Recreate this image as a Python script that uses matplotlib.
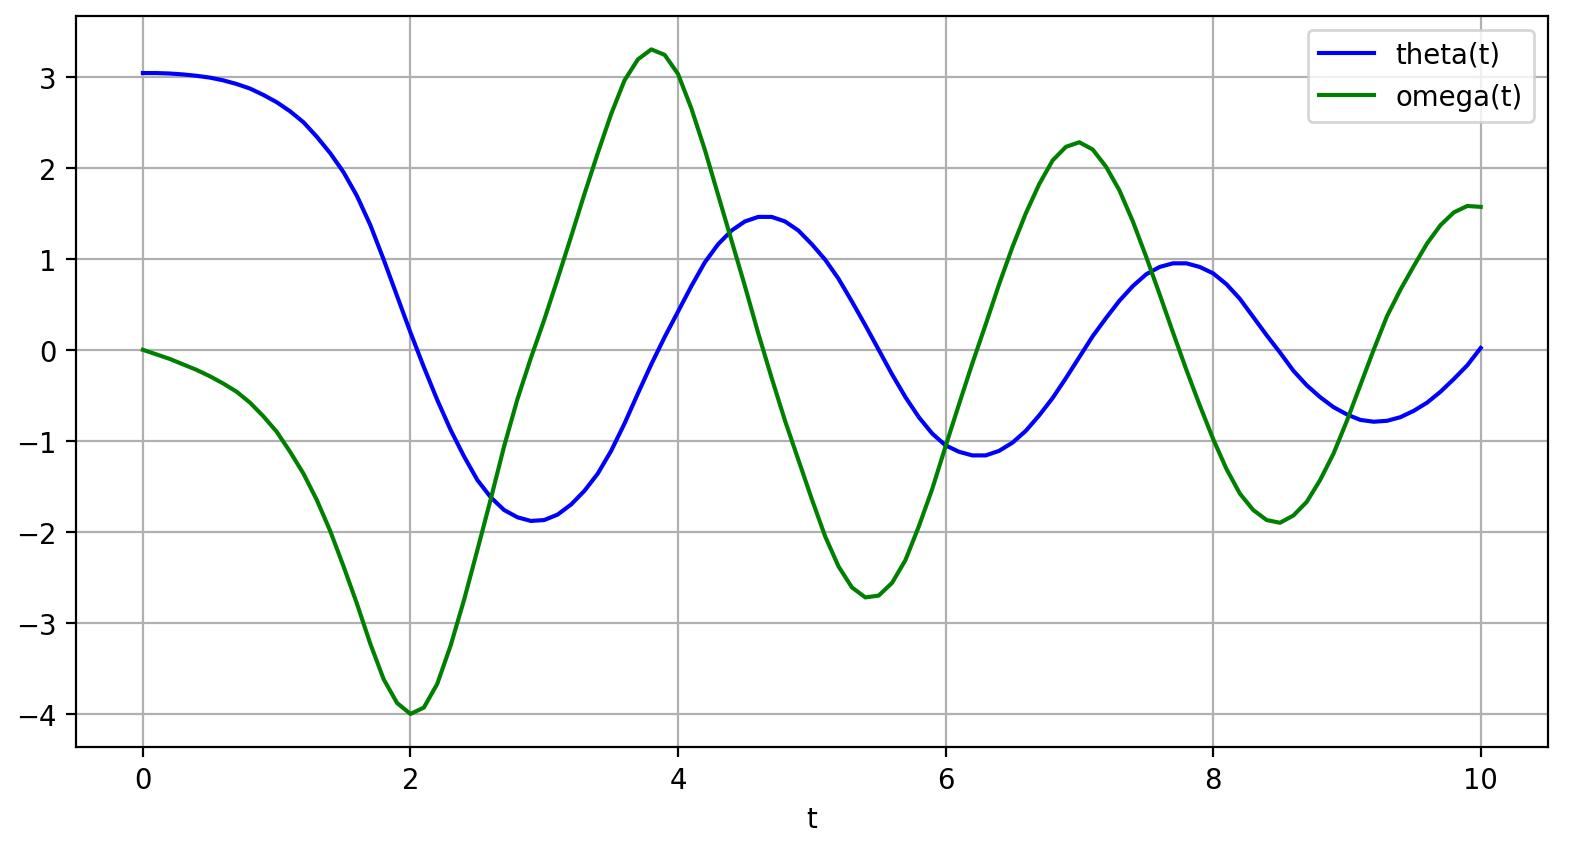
import matplotlib
matplotlib.use("Agg")
import matplotlib.pyplot as plt
import numpy as np

# time samples, 0 .. 10 in steps of 0.1
t = np.linspace(0, 10, 101)

# values
theta = [3.04, 3.04, 3.035, 3.025, 3.01, 2.99, 2.96, 2.92, 2.87, 2.80,
         2.72, 2.62, 2.50, 2.34, 2.16, 1.95, 1.69, 1.37, 0.99, 0.59,
         0.19, -0.19, -0.55, -0.88, -1.17, -1.43, -1.62, -1.76, -1.84, -1.88,
         -1.87, -1.81, -1.70, -1.55, -1.36, -1.11, -0.81, -0.48, -0.16, 0.14,
         0.42, 0.70, 0.96, 1.16, 1.31, 1.41, 1.46, 1.46, 1.41, 1.31,
         1.16, 0.99, 0.78, 0.53, 0.27, 0.00, -0.27, -0.52, -0.74, -0.92,
         -1.05, -1.12, -1.16, -1.16, -1.11, -1.02, -0.89, -0.72, -0.53, -0.31,
         -0.08, 0.15, 0.35, 0.54, 0.70, 0.83, 0.91, 0.95, 0.95, 0.91,
         0.84, 0.72, 0.56, 0.36, 0.16, -0.03, -0.23, -0.39, -0.52, -0.63,
         -0.71, -0.77, -0.79, -0.78, -0.74, -0.67, -0.58, -0.46, -0.32, -0.17,
         0.02]

omega = [0.0, -0.05, -0.10, -0.16, -0.22, -0.29, -0.37, -0.46, -0.58, -0.73,
         -0.90, -1.12, -1.36, -1.65, -1.99, -2.38, -2.79, -3.23, -3.62, -3.88,
         -4.00, -3.93, -3.67, -3.25, -2.75, -2.20, -1.64, -1.06, -0.54, -0.09,
         0.33, 0.78, 1.24, 1.71, 2.16, 2.59, 2.96, 3.19, 3.30, 3.24,
         3.03, 2.65, 2.20, 1.70, 1.20, 0.70, 0.18, -0.31, -0.78, -1.21,
         -1.64, -2.05, -2.38, -2.61, -2.72, -2.70, -2.56, -2.31, -1.94, -1.53,
         -1.06, -0.60, -0.15, 0.28, 0.72, 1.13, 1.50, 1.82, 2.08, 2.23,
         2.28, 2.20, 2.01, 1.75, 1.41, 1.02, 0.61, 0.19, -0.22, -0.61,
         -0.98, -1.31, -1.58, -1.76, -1.87, -1.90, -1.82, -1.67, -1.43, -1.14,
         -0.78, -0.39, 0.00, 0.37, 0.66, 0.92, 1.17, 1.37, 1.51, 1.58,
         1.57]

fig = plt.figure(figsize=(8, 858 / 198), dpi=198)
ax = fig.add_subplot(111)
fig.subplots_adjust(left=0.048, right=0.977, top=0.980, bottom=0.128)

ax.plot(t, theta, 'b', label='theta(t)')
ax.plot(t, omega, 'g', label='omega(t)')
ax.legend(loc='best')
ax.set_xlabel('t')
ax.grid()

fig.savefig("out.png", dpi=198)
